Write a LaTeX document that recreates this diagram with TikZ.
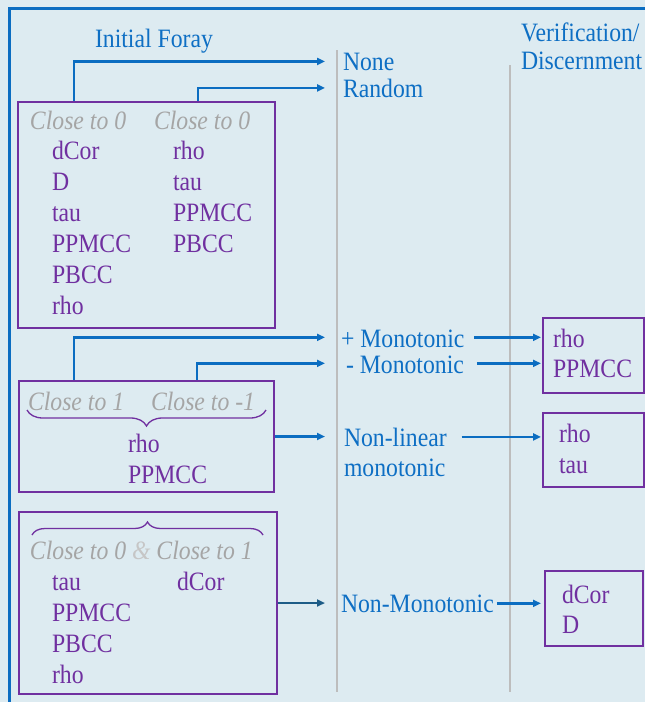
\documentclass[tikz,border=0pt]{standalone}
\usepackage{fontspec}
\setmainfont{Liberation Serif}
\usetikzlibrary{arrows.meta,decorations.pathreplacing}
\definecolor{bg}{HTML}{DDEBF1}
\definecolor{frameblue}{HTML}{0B6DC1}
\definecolor{txtblue}{HTML}{0E6FC4}
\definecolor{boxpurple}{HTML}{7030A0}
\definecolor{softgray}{HTML}{A5A5A5}
\definecolor{ampgray}{HTML}{C6C6C6}
\definecolor{rulegray}{HTML}{BDBDBD}
\definecolor{darkteal}{HTML}{1D5C87}
\begin{document}
\begin{tikzpicture}[x=1pt,y=-1pt,
  txt/.style={inner sep=0pt, outer sep=0pt, xscale=0.895,
              font=\fontsize{26.5}{31}\selectfont},
  lbl/.style={txt, anchor=base west, text=txtblue},
  item/.style={txt, anchor=base west, text=boxpurple},
  hint/.style={txt, anchor=base west, text=softgray,
               font=\fontsize{26.5}{31}\selectfont\itshape},
  group/.style={draw=boxpurple, line width=2.5pt, rectangle, inner sep=0pt},
  conn/.style={draw=frameblue, line width=2.5pt, -{Triangle[length=8pt,width=7pt]}},
  divider/.style={draw=rulegray, line width=2pt},
  curly/.style={draw=boxpurple, line width=1.3pt, decorate,
                decoration={brace, amplitude=#1}}
]
% canvas
\fill[bg] (0,0) rectangle (645,702);
\useasboundingbox (0,0) rectangle (645,702);

% outer frame
\draw[frameblue, line width=3pt] (9,706) -- (9,8) -- (649,8);

% column dividers
\draw[divider] (337,50) -- (337,692);
\draw[divider] (510,65) -- (510,692);

% arrow tip columns
\coordinate (tipA) at (325,0);
\coordinate (tipB) at (541,0);

% headings
\node[lbl] (foray) at (95,47) {Initial Foray};
\node[lbl] (verif) at (521,41) {Verification/};
\node[lbl] (disc)  at (521,69) {Discernment};

% outcome labels
\node[lbl] (none)   at (343,70)  {None};
\node[lbl] (random) at (343,97)  {Random};
\node[lbl] (plus)   at (341,347) {+ Monotonic};
\node[lbl] (minus)  at (346,373) {- Monotonic};
\node[lbl] (nonlin) at (344,446) {Non-linear};
\node[lbl] (monot)  at (344,476) {monotonic};
\node[lbl] (nonmon) at (341,612) {Non-Monotonic};

% group 1: both close to 0
\node[group, minimum width=257pt, minimum height=226pt] (g1) at (146.5,215) {};
\node[hint] (h1a) at (30,129)  {Close to 0};
\node[hint] (h1b) at (154,129) {Close to 0};
\foreach \t [count=\i] in {dCor,D,tau,PPMCC,PBCC,rho}
  \node[item] (g1a\i) at (52,{128+31*\i}) {\t};
\foreach \t [count=\i] in {rho,tau,PPMCC,PBCC}
  \node[item] (g1b\i) at (173,{128+31*\i}) {\t};

% group 2: close to 1 / close to -1
\node[group, minimum width=255pt, minimum height=111pt] (g2) at (146.5,436.5) {};
\node[hint] (h2a) at (28,410)  {Close to 1};
\node[hint] (h2b) at (151,410) {Close to -1};
\draw[curly=16pt] (266,410) -- (27,410);
\node[item] (g2a) at (128,452) {rho};
\node[item] (g2b) at (128,483) {PPMCC};

% group 3: close to 0 and close to 1
\node[group, minimum width=258pt, minimum height=182pt] (g3) at (148,603) {};
\draw[curly=13pt] (32,535) -- (263,535);
\node[hint] (h3) at (30,559) {Close to 0 {\color{ampgray}\&} Close to 1};
\foreach \t [count=\i] in {tau,PPMCC,PBCC,rho}
  \node[item] (g3a\i) at (52,{559+31*\i}) {\t};
\node[item] (g3b) at (177,590) {dCor};

% verification boxes
\node[group, minimum width=101pt, minimum height=75pt] (r1) at (593.5,355.5) {};
\node[item] (r1a) at (553,347) {rho};
\node[item] (r1b) at (553,377) {PPMCC};
\node[group, minimum width=101pt, minimum height=74pt] (r2) at (593.5,450) {};
\node[item] (r2a) at (559,442) {rho};
\node[item] (r2b) at (559,473) {tau};
\node[group, minimum width=98pt, minimum height=75pt] (r3) at (594,608.5) {};
\node[item] (r3a) at (562,603) {dCor};
\node[item] (r3b) at (562,633) {D};

% connectors from the groups
\draw[conn] ([xshift=57pt]g1.north west) |- (none.west -| tipA);
\draw[conn] ([xshift=181pt]g1.north west) |- (random.west -| tipA);
\draw[conn] ([xshift=56pt]g2.north west) |- ([yshift=1pt]plus.west -| tipA);
\draw[conn] ([xshift=179pt]g2.north west) |- ([yshift=1pt]minus.west -| tipA);
\draw[conn] (g2.east) -- (g2.east -| tipA);
\draw[conn, draw=darkteal] (g3.east) -- (g3.east -| tipA);

% connectors to verification
\draw[conn] ([xshift=10pt,yshift=1pt]plus.east) -- ([yshift=1pt]plus.east -| tipB);
\draw[conn] ([xshift=13pt,yshift=1pt]minus.east) -- ([yshift=1pt]minus.east -| tipB);
\draw[conn] ([xshift=15pt]nonlin.east) -- (nonlin.east -| tipB);
\draw[conn] ([xshift=3pt]nonmon.east) -- (nonmon.east -| tipB);
\end{tikzpicture}
\end{document}
